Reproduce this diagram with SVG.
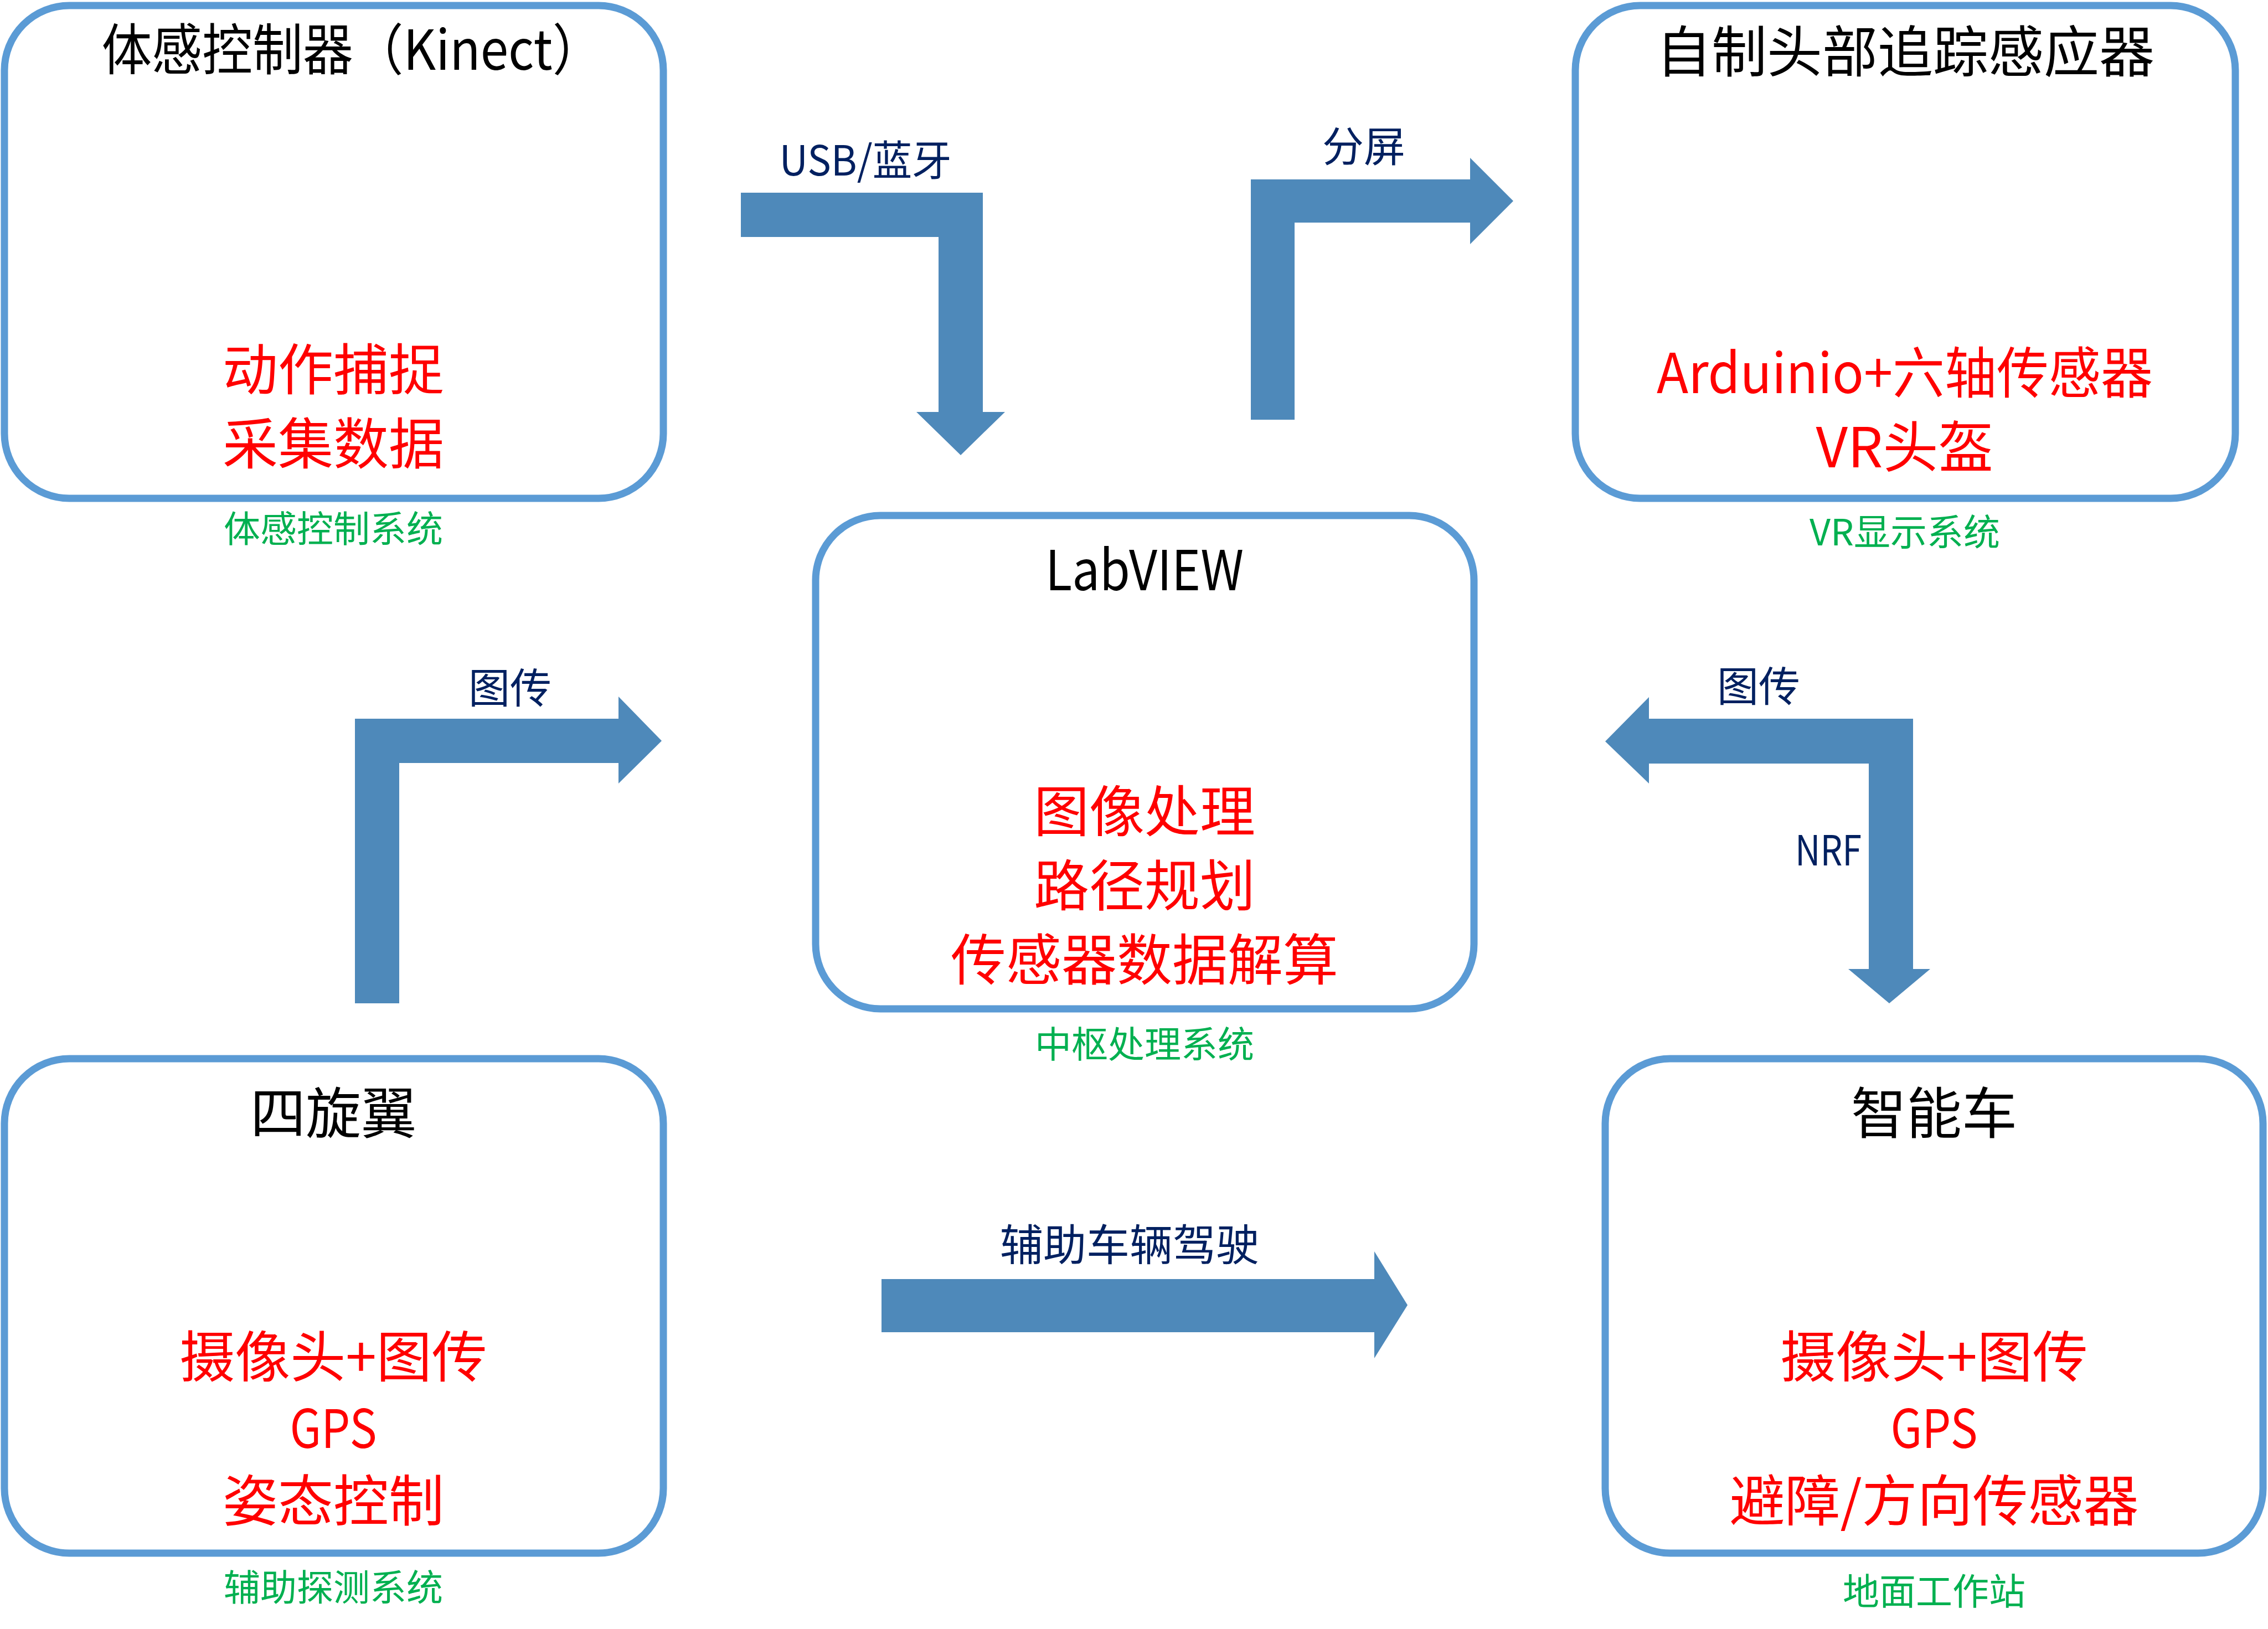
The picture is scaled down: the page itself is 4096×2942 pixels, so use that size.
<svg xmlns="http://www.w3.org/2000/svg" width="4096" height="2942" viewBox="0 0 4096 2942">
<style>
.box{fill:#FFFFFF;stroke:#5B9BD5;stroke-width:13}
.arr{fill:#4E89BA;stroke:none}
text{font-family:"Noto Sans CJK SC","Noto Sans",sans-serif;text-anchor:middle;dominant-baseline:central}
.title{font-size:100px;fill:#000000}
.red{font-size:100px;fill:#FF0000}
.gps{font-size:96px;fill:#FF0000}
.grn{font-size:66px;fill:#00B050}
.lbl{font-size:75px;fill:#002060}
</style>
<rect width="4096" height="2942" fill="#FFFFFF"/>
<g id="connectors">
<polygon class="arr" points="1338,348 1775,348 1775,744 1815,744 1735,822 1655,744 1695,744 1695,428 1338,428"/>
<text class="lbl" x="1563" y="284" textLength="311" lengthAdjust="spacingAndGlyphs">USB/蓝牙</text>
<polygon class="arr" points="2259,758 2259,324 2655,324 2655,285 2733,363 2655,441 2655,402 2338,402 2338,758"/>
<text class="lbl" x="2463" y="259">分屏</text>
<polygon class="arr" points="641,1812 641,1298 1117,1298 1117,1258 1195,1338 1117,1415 1117,1378 721,1378 721,1812"/>
<text class="lbl" x="921" y="1237">图传</text>
<polygon class="arr" points="2899,1339 2978,1259 2978,1298 3455,1298 3455,1750 3486,1750 3412,1812 3338,1750 3375,1750 3375,1379 2978,1379 2978,1415"/>
<text class="lbl" x="3176" y="1234">图传</text>
<text class="lbl" x="3302" y="1530" textLength="120" lengthAdjust="spacingAndGlyphs">NRF</text>
<polygon class="arr" points="1592,2310 2482,2310 2482,2260 2542,2357 2482,2453 2482,2406 1592,2406"/>
<text class="lbl" x="2040" y="2243" style="font-size:78px">辅助车辆驾驶</text>
</g>
<g id="node-kinect">
<rect class="box" x="8" y="10" width="1190" height="890" rx="117" ry="117"/>
<text class="title" x="636" y="82" textLength="905" lengthAdjust="spacingAndGlyphs">体感控制器（Kinect）</text>
<text class="red" x="602" y="660">动作捕捉</text>
<text class="red" x="602" y="794">采集数据</text>
<text class="grn" x="602" y="950">体感控制系统</text>
</g>
<g id="node-head">
<rect class="box" x="2845" y="10" width="1192" height="890" rx="117" ry="117"/>
<text class="title" x="3441" y="86">自制头部追踪感应器</text>
<text class="red" x="3440" y="666" textLength="896" lengthAdjust="spacingAndGlyphs">Arduinio+六轴传感器</text>
<text class="red" x="3440" y="800">VR头盔</text>
<text class="grn" x="3440" y="956">VR显示系统</text>
</g>
<g id="node-labview">
<rect class="box" x="1473" y="931" width="1189" height="891" rx="117" ry="117"/>
<text class="title" x="2067" y="1022" textLength="358" lengthAdjust="spacingAndGlyphs">LabVIEW</text>
<text class="red" x="2067" y="1458">图像处理</text>
<text class="red" x="2067" y="1592">路径规划</text>
<text class="red" x="2067" y="1726">传感器数据解算</text>
<text class="grn" x="2067" y="1881">中枢处理系统</text>
</g>
<g id="node-quad">
<rect class="box" x="8" y="1912" width="1190" height="893" rx="117" ry="117"/>
<text class="title" x="602" y="2003">四旋翼</text>
<text class="red" x="602" y="2443">摄像头+图传</text>
<text class="gps" x="602" y="2573" textLength="157" lengthAdjust="spacingAndGlyphs">GPS</text>
<text class="red" x="602" y="2703">姿态控制</text>
<text class="grn" x="602" y="2862">辅助探测系统</text>
</g>
<g id="node-car">
<rect class="box" x="2899" y="1912" width="1188" height="893" rx="117" ry="117"/>
<text class="title" x="3493" y="2003">智能车</text>
<text class="red" x="3493" y="2443">摄像头+图传</text>
<text class="gps" x="3493" y="2573" textLength="157" lengthAdjust="spacingAndGlyphs">GPS</text>
<text class="red" x="3493" y="2703">避障/方向传感器</text>
<text class="grn" x="3493" y="2869">地面工作站</text>
</g>
</svg>
